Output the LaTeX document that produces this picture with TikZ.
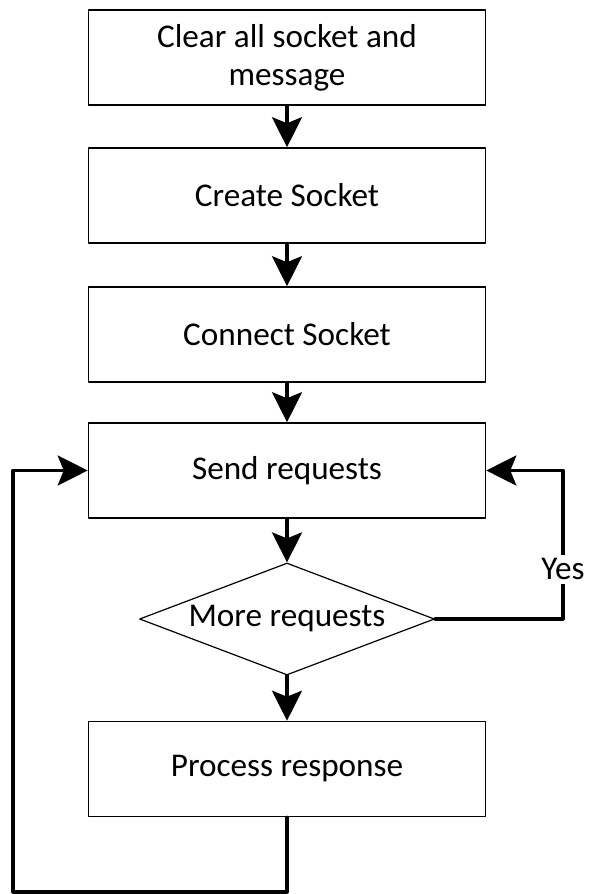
\documentclass[tikz,border=0pt]{standalone}
\usepackage{fontspec}
\setmainfont{Carlito}
\usepackage{tikz}
\usetikzlibrary{calc,shapes.geometric,arrows.meta}

\begin{document}
\begin{tikzpicture}[x=0.5pt, y=-0.5pt, line cap=round, line join=round,
	font=\fontsize{16.6}{19}\selectfont,
	stepbox/.style={draw, line width=0.8pt, minimum width=198.5pt, minimum height=47.5pt, align=center, inner sep=0pt},
	decision/.style={draw, diamond, line width=0.6pt, aspect=2.63, minimum width=147.5pt, minimum height=56pt, inner sep=0pt},
	flow/.style={line width=1.6pt, -{Stealth[length=15pt, width=15pt, inset=3pt]}}]
	
	% ----------------------------
	% 0) Canvas
	% ----------------------------
	\useasboundingbox (0,0) rectangle (589,894);
	\def\cx{287}    % centre line of the chain
	\def\lx{13}     % left return line
	\def\rx{563}    % right "Yes" line
	
	% ----------------------------
	% 1) Process boxes
	% ----------------------------
	\node[stepbox] (clear) at (\cx,57.5) {Clear all socket and\\message};
	\node[stepbox] (create) at (\cx,195.5) {Create Socket};
	\node[stepbox] (connect) at (\cx,334.5) {Connect Socket};
	\node[stepbox] (send) at (\cx,470.5) {Send requests};
	
	% ----------------------------
	% 2) Decision
	% ----------------------------
	\node[decision] (more) at (\cx,619) {More requests};
	
	\node[stepbox] (proc) at (\cx,769) {Process response};
	
	% ----------------------------
	% 3) Straight flow down
	% ----------------------------
	\foreach \a/\b in {clear/create, create/connect, connect/send, send/more, more/proc}{
		\draw[flow] (\a.south) -- (\b.north);
	}
	
	% ----------------------------
	% 4) Loops back to "Send requests"
	% ----------------------------
	\coordinate (yesturn) at (\rx,470.5);
	\coordinate (loopbot) at (\lx,892);
	
	\draw[flow] (more.east) -| node[pos=0.667, fill=white, inner sep=2pt] (yes) {Yes} (yesturn) -- (send.east);
	\draw[flow] (proc.south) |- (loopbot) |- (send.west);
	
\end{tikzpicture}
\end{document}
